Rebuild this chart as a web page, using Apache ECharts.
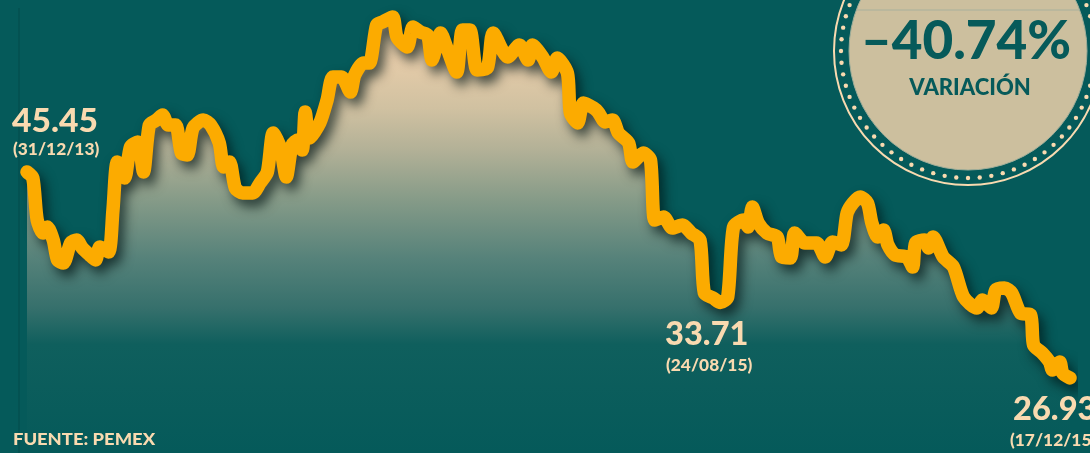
<!DOCTYPE html>
<html>
<head>
<meta charset="utf-8">
<script src="https://cdn.jsdelivr.net/npm/echarts@6/dist/echarts.min.js"></script>
<style>
html,body{margin:0;padding:0;background:#055a5a;}
#c{width:1090px;height:453px;}
</style>
</head>
<body>
<div id="c"></div>
<script>
// Sessions elapsed since 31/12/13 (relative position along the period)
const dayIndex = [0,4,7,11,14,18,21,25,30,34,38,43,47,50,56,59,62,67,71,76,80,84,89,93,97,102,106,110,114,121,126,132,135,139,143,148,155,160,165,169,174,178,182,186,189,191,194,201,206,210,216,222,225,231,235,240,244,251,254,261,265,270,275,278,284,288,295,299,304,309,316,320,330,338,344,347,354,360,364,371,373,378,382,389,392,397,402,406,413,416,423,428,431,437,443,450,456,462,465,471,476,481,485,492,495,498,502,508,515,518,524,527,534,542,548,553,559,563,567,572,577,580,584,588,591,596,604,608,610,616,619,622,629,636,643,652,656,662,665,671,676,682,689,691,697,702,704,709,711,716];
const values = [45.45,44.91,41.13,39.96,40.50,39.33,37.54,37.27,39.07,39.33,38.62,37.99,37.54,38.71,38.26,42.03,46.35,44.91,47.70,48.15,45.45,49.68,50.13,50.58,49.68,49.68,47.16,46.98,49.41,50.13,49.68,48.06,45.90,46.35,44.01,43.56,43.56,44.46,45.45,48.96,47.61,45.00,47.88,48.33,47.43,50.85,48.51,49.86,51.92,53.99,53.99,52.64,54.17,55.25,55.25,58.67,58.94,59.39,57.59,56.69,58.49,58.04,57.77,55.52,57.95,56.69,54.44,58.22,58.22,54.62,54.80,57.95,55.79,56.87,55.52,56.87,55.79,54.44,55.70,54.35,50.76,49.86,51.66,51.21,50.85,49.95,50.13,48.96,48.06,46.35,47.16,46.53,41.13,41.40,40.41,40.68,39.96,39.33,34.57,34.12,33.71,34.21,40.50,41.13,40.50,42.30,40.86,39.96,39.60,37.81,37.72,39.96,39.07,39.07,37.81,39.16,38.89,41.76,42.66,43.20,42.66,40.86,39.60,40.23,38.89,37.99,37.81,36.91,39.07,39.33,38.62,39.60,37.81,36.91,34.21,33.22,33.94,33.22,34.84,35.02,34.57,32.77,32.59,29.89,29.17,28.36,27.64,28.36,27.37,26.93];

const startLabel = {value:'45.45', date:'(31/12/13)'};
const lowLabel = {value:'33.71', date:'(24/08/15)'};
const endLabel = {value:'26.93', date:'(17/12/15)'};
const variation = '–40.74%';
const variationTitle = 'VARIACIÓN';
const source = 'FUENTE: PEMEX';

const chart = echarts.init(document.getElementById('c'), null, {renderer:'canvas'});
const data = dayIndex.map((d,i)=>[d, values[i]]);

const BG = '#055a5a';
const PEACH = '#f9dab0';
const FONT = '"Lato Black", Lato, "Open Sans", sans-serif';
const FONTB = 'Lato, "Open Sans", sans-serif';

// badge decoration
const cx = 968, cy = 51;
const dots = [];
const nDots = 68;
for (let i=0;i<nDots;i++){
  const a = i/nDots*Math.PI*2;
  dots.push({type:'circle', silent:true, z:10,
    shape:{cx:cx+127*Math.cos(a), cy:cy+127*Math.sin(a), r:2.2},
    style:{fill:PEACH}});
}

const txt = (t, left, top, size, sx, fill) => ({
  type:'text', x:left, y:top, z:20, silent:true, scaleX:sx,
  style:{text:t, fill, font:`900 ${size}px ${FONT}`, textVerticalAlign:'top', verticalAlign:'top'}
});

chart.setOption({
  backgroundColor: BG,
  animation:false,
  grid:{left:27,right:20,top:0,bottom:0},
  xAxis:{type:'value',min:0,max:716,show:false},
  yAxis:{type:'value',min:20.18,max:60.92,show:false},
  series:[{
    type:'line',
    data,
    smooth:0.25,
    showSymbol:false,
    lineStyle:{color:'#fcab00',width:13.5,cap:'round',join:'round',
      shadowColor:'rgba(0,20,20,0.7)',shadowBlur:12,shadowOffsetX:5,shadowOffsetY:7},
    areaStyle:{
      color:new echarts.graphic.LinearGradient(0,0,0,453,[
        {offset:0,color:'#efd3ae'},
        {offset:0.13,color:'#e6cca9'},
        {offset:0.24,color:'#d0c1a1'},
        {offset:0.33,color:'#b3b197'},
        {offset:0.44,color:'#869b88'},
        {offset:0.57,color:'#56827a'},
        {offset:0.68,color:'#36706c'},
        {offset:0.76,color:'#0f5f5d'},
        {offset:1,color:BG}
      ], true),
      opacity:1
    }
  }],
  graphic:[
    {type:'line', silent:true, shape:{x1:19,y1:8,x2:19,y2:453}, style:{stroke:'rgba(0,50,50,0.35)',lineWidth:1}},
    {type:'circle', silent:true, z:9, shape:{cx,cy,r:134}, style:{fill:BG, stroke:PEACH, lineWidth:2}},
    {type:'circle', silent:true, z:11, shape:{cx,cy,r:119}, style:{fill:'#ccbf9e', stroke:'#9fae9a', lineWidth:1}},
    {type:'line', silent:true, z:12, shape:{x1:857,y1:10,x2:1079,y2:10}, style:{stroke:'#a8b09c',lineWidth:1}},
    ...dots,
    {type:'text', z:20, silent:true, x:966, y:42,
      style:{text:variation, fill:'#065a5a', font:`900 53px ${FONT}`, align:'center', verticalAlign:'middle'}},
    {type:'text', z:20, silent:true, x:970, y:88,
      style:{text:variationTitle, fill:'#065a5a', font:`900 22px ${FONT}`, align:'center', verticalAlign:'middle'}},
    txt(startLabel.value, 12, 106, 32, 1.05, PEACH),
    txt(startLabel.date, 13, 141, 16.5, 1.05, PEACH),
    txt(lowLabel.value, 665, 319, 32, 1.02, PEACH),
    txt(lowLabel.date, 666, 357, 16.5, 1.05, PEACH),
    txt(endLabel.value, 1013, 394, 32, 1.02, PEACH),
    txt(endLabel.date, 1010, 432, 16.5, 1.05, PEACH),
    txt(source, 13, 431, 17, 1.08, PEACH)
  ]
});
</script>
</body>
</html>
